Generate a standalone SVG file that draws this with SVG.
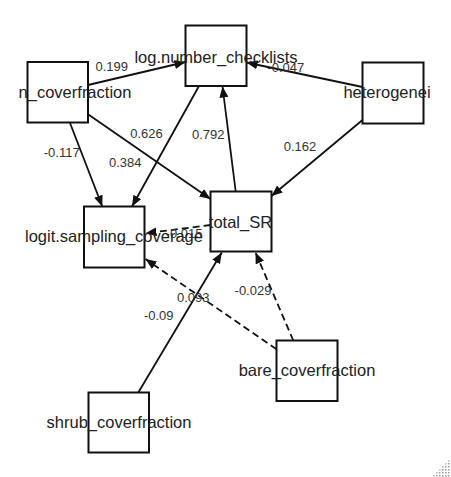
<svg xmlns="http://www.w3.org/2000/svg" width="451" height="477" viewBox="0 0 451 477">
<style>
.node rect{fill:#fff;stroke:#111;stroke-width:2}
.node text{font-family:"Liberation Sans",Arial,sans-serif;font-size:16.5px;fill:#222;text-anchor:middle}
.edge{stroke:#111;stroke-width:1.8;fill:none}
.dash{stroke-dasharray:7,4}
.lbl{font-family:"Liberation Sans",Arial,sans-serif;font-size:13px;fill:#333;text-anchor:middle}
</style>
<defs>
<marker id="arr" markerUnits="userSpaceOnUse" markerWidth="12" markerHeight="10" refX="11" refY="4.5" orient="auto">
<path d="M0,0 L11,4.5 L0,9 z" fill="#111"/>
</marker>
<pattern id="grip" width="3" height="3" patternUnits="userSpaceOnUse">
<rect x="1" y="1" width="1.5" height="1.5" fill="#9a9a9a"/>
</pattern>
</defs>
<rect width="451" height="477" fill="#fff"/>
<g id="connectors">
<line class="edge" x1="88" y1="85" x2="185.5" y2="62" marker-end="url(#arr)"/>
<line class="edge" x1="70" y1="123" x2="102.3" y2="206.5" marker-end="url(#arr)"/>
<line class="edge" x1="88" y1="114.3" x2="210.5" y2="199" marker-end="url(#arr)"/>
<line class="edge" x1="199" y1="86" x2="132" y2="206.5" marker-end="url(#arr)"/>
<line class="edge" x1="235.7" y1="191.5" x2="222.5" y2="86.5" marker-end="url(#arr)"/>
<line class="edge" x1="362.5" y1="87" x2="246.5" y2="62.5" marker-end="url(#arr)"/>
<line class="edge" x1="362.5" y1="120" x2="271.5" y2="196" marker-end="url(#arr)"/>
<line class="edge dash" x1="210.5" y1="225" x2="145.5" y2="233.3" marker-end="url(#arr)"/>
<line class="edge dash" x1="276.5" y1="349.3" x2="145.5" y2="259" marker-end="url(#arr)"/>
<line class="edge dash" x1="293.3" y1="340.5" x2="255.5" y2="252.5" marker-end="url(#arr)"/>
<line class="edge" x1="138.3" y1="392.5" x2="221.7" y2="252.5" marker-end="url(#arr)"/>
<text class="lbl" x="111.7" y="70.7">0.199</text>
<text class="lbl" x="61.7" y="156.7">-0.117</text>
<text class="lbl" x="146.5" y="138">0.626</text>
<text class="lbl" x="125.3" y="166.7">0.384</text>
<text class="lbl" x="208.3" y="139.3">0.792</text>
<text class="lbl" x="285.8" y="71.7">-0.047</text>
<text class="lbl" x="300" y="150.7">0.162</text>
<text class="lbl" x="184" y="238">-0.015</text>
<text class="lbl" x="193.3" y="301.7">0.093</text>
<text class="lbl" x="253" y="295">-0.029</text>
<text class="lbl" x="158.7" y="320">-0.09</text>
</g>
<g id="n_coverfraction" class="node"><rect x="27.5" y="62" width="60.5" height="60.5"/><text x="75" y="97.5">n_coverfraction</text></g>
<g id="log.number_checklists" class="node"><rect x="185.5" y="25.5" width="61" height="60.5"/><text x="216" y="62.5">log.number_checklists</text></g>
<g id="heterogenei" class="node"><rect x="362.5" y="62.5" width="61" height="61"/><text x="387" y="98">heterogenei</text></g>
<g id="total_SR" class="node"><rect x="210.5" y="191.5" width="61" height="60"/><text x="240.5" y="227.5">total_SR</text></g>
<g id="logit.sampling_coverage" class="node"><rect x="84" y="206.5" width="60.5" height="61"/><text x="114" y="242">logit.sampling_coverage</text></g>
<g id="shrub_coverfraction" class="node"><rect x="88.5" y="392.5" width="60.5" height="60"/><text x="119" y="428">shrub_coverfraction</text></g>
<g id="bare_coverfraction" class="node"><rect x="276.5" y="340.5" width="61" height="60.5"/><text x="307" y="376">bare_coverfraction</text></g>
<polygon points="451,458 451,477 432,477" fill="url(#grip)"/>
</svg>
